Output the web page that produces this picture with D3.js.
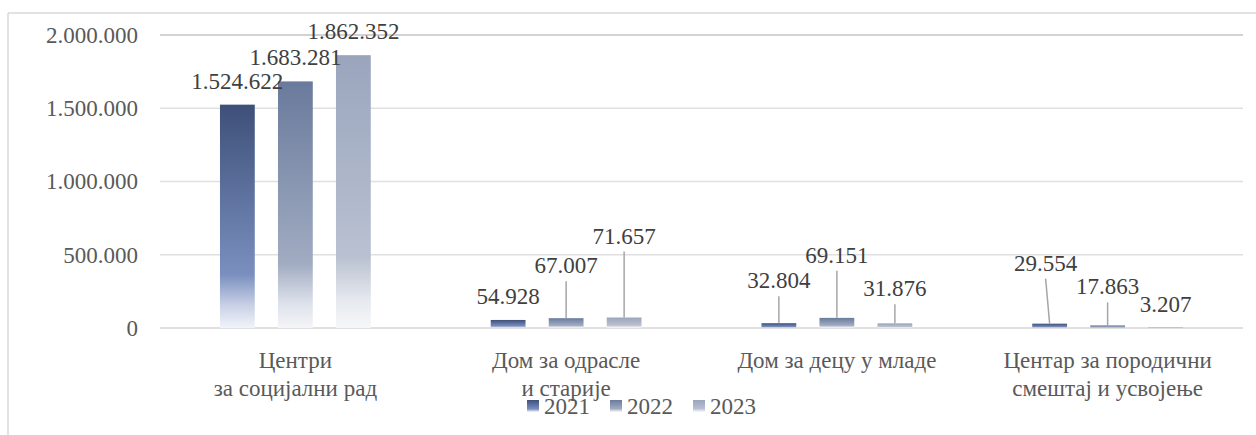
<!DOCTYPE html>
<html>
<head>
<meta charset="utf-8">
<script src="https://cdn.jsdelivr.net/npm/d3@7"></script>
<style>
  body { margin: 0; background: #fff; }
  svg text { font-family: "Liberation Serif", Tinos, "Times New Roman", Times, "Noto Serif", "DejaVu Serif", FreeSerif, serif; }
</style>
</head>
<body>
<div id="chart"></div>
<script>
// data
const categories = [
  ["Центри", "за социјални рад"],
  ["Дом за одрасле", "и старије"],
  ["Дом за децу у младе"],
  ["Центар за породични", "смештај и усвојење"]
];
const years = ["2021", "2022", "2023"];
const values2021 = [1524622, 54928, 32804, 29554];
const values2022 = [1683281, 67007, 69151, 17863];
const values2023 = [1862352, 71657, 31876, 3207];
const yTicks = [0, 500000, 1000000, 1500000, 2000000];

// layout: manual label placement (extra lift in px above the default spot, x shift)
const labelLift = [
  [0, 0, 0],
  [0, 29, 58],
  [19, 39, 11],
  [37, 15, 0]
];
const labelShift = [
  [0, 0, 0],
  [0, 0, 0],
  [0, 0, 0],
  [-4, 0, 0]
];

function draw() {
  const dimensions = {
    width: 1256,
    height: 435,
    left: 160,
    right: 1243,
    top: 35,
    bottom: 328
  };

  const series = [values2021, values2022, values2023];
  const rows = categories.map((c, i) => ({
    i,
    label: c,
    values: years.map((yr, j) => ({ year: yr, j, i, value: series[j][i] }))
  }));

  const fmt = v => d3.format(",")(v).replace(/,/g, ".");

  const svg = d3.select("#chart")
    .append("svg")
    .attr("width", dimensions.width)
    .attr("height", dimensions.height);

  const gradStops = [
    [["0", "#3e5079"], ["0.76", "#7a8fbf"], ["0.9", "#c9d1e6"], ["1", "#f2f4fa"]],
    [["0", "#6a7a9c"], ["0.74", "#a1acc2"], ["0.9", "#dde1ea"], ["1", "#f4f5f8"]],
    [["0", "#9aa5bd"], ["0.74", "#b9c1d1"], ["0.9", "#e6e9ef"], ["1", "#f6f7f9"]]
  ];
  const defs = svg.append("defs");
  gradStops.forEach((stops, j) => {
    const g = defs.append("linearGradient")
      .attr("id", "grad" + j)
      .attr("x1", 0).attr("y1", 0).attr("x2", 0).attr("y2", 1);
    stops.forEach(s => g.append("stop").attr("offset", s[0]).attr("stop-color", s[1]));
  });

  // frame
  svg.append("line")
    .attr("x1", 8).attr("x2", dimensions.width).attr("y1", 13).attr("y2", 13)
    .attr("stroke", "#d9d9d9").attr("stroke-width", 1.5);
  svg.append("line")
    .attr("x1", 8).attr("x2", 8).attr("y1", 13).attr("y2", dimensions.height)
    .attr("stroke", "#d9d9d9").attr("stroke-width", 1.5);

  const y = d3.scaleLinear()
    .domain([0, 2000000])
    .range([dimensions.bottom, dimensions.top]);

  const x0 = d3.scaleBand()
    .domain(d3.range(categories.length))
    .range([dimensions.left, dimensions.right]);

  const x1 = d3.scaleBand()
    .domain(years)
    .range([0, x0.bandwidth()])
    .paddingInner(0.4)
    .paddingOuter(1.034);

  // grid
  svg.append("g")
    .selectAll("line")
    .data(yTicks)
    .join("line")
    .attr("x1", dimensions.left)
    .attr("x2", dimensions.right)
    .attr("y1", d => y(d))
    .attr("y2", d => y(d))
    .attr("stroke", d => d === 2000000 ? "#c4c4c4" : "#e0e0e0")
    .attr("stroke-width", d => d === 0 ? 2 : 1.5);

  const yAxis = svg.append("g")
    .attr("transform", `translate(${dimensions.left - 22},0)`)
    .call(d3.axisLeft(y).tickValues(yTicks).tickSize(0).tickPadding(0).tickFormat(fmt))
    .attr("font-family", null)
    .attr("font-size", 23);
  yAxis.select(".domain").remove();
  yAxis.selectAll("text")
    .attr("fill", "#595959");

  // bars
  const groups = svg.append("g")
    .selectAll("g")
    .data(rows)
    .join("g")
    .attr("transform", d => `translate(${x0(d.i)},0)`);

  groups.selectAll("rect")
    .data(d => d.values)
    .join("rect")
    .attr("x", d => x1(d.year))
    .attr("width", x1.bandwidth())
    .attr("y", d => y(d.value))
    .attr("height", d => y(0) - y(d.value))
    .attr("fill", d => `url(#grad${d.j})`);

  // leader lines + labels
  const cx = d => x1(d.year) + x1.bandwidth() / 2;
  const labelY = d => y(d.value) - 24 - labelLift[d.i][d.j];
  const labelX = d => cx(d) + labelShift[d.i][d.j];

  groups.selectAll("line.leader")
    .data(d => d.values.filter(v => labelLift[v.i][v.j] > 8))
    .join("line")
    .attr("class", "leader")
    .attr("x1", d => labelX(d))
    .attr("y1", d => labelY(d) + 16)
    .attr("x2", d => cx(d))
    .attr("y2", d => y(d.value))
    .attr("stroke", "#a6a6a6")
    .attr("stroke-width", 1.5);

  groups.selectAll("text.val")
    .data(d => d.values)
    .join("text")
    .attr("class", "val")
    .attr("x", d => labelX(d))
    .attr("y", d => labelY(d))
    .attr("dy", "0.35em")
    .attr("text-anchor", "middle")
    .attr("font-size", 23)
    .attr("fill", "#404040")
    .text(d => fmt(d.value));

  // category labels
  const cat = svg.append("g")
    .selectAll("text")
    .data(rows)
    .join("text")
    .attr("x", d => x0(d.i) + x0.bandwidth() / 2)
    .attr("y", 360)
    .attr("text-anchor", "middle")
    .attr("font-size", 23)
    .attr("fill", "#595959");
  cat.selectAll("tspan")
    .data(d => d.label.map(t => ({ t, x: x0(d.i) + x0.bandwidth() / 2 })))
    .join("tspan")
    .attr("x", d => d.x)
    .attr("dy", (d, k) => k === 0 ? "0.35em" : "28")
    .text(d => d.t);

  // legend
  const legend = svg.append("g")
    .attr("transform", "translate(527,406)");
  const item = legend.selectAll("g")
    .data(years)
    .join("g")
    .attr("transform", (d, j) => `translate(${j * 83},0)`);
  item.append("rect")
    .attr("y", -6)
    .attr("width", 12)
    .attr("height", 12)
    .attr("fill", (d, j) => `url(#grad${j})`);
  item.append("text")
    .attr("x", 17)
    .attr("dy", "0.35em")
    .attr("font-size", 23)
    .attr("fill", "#595959")
    .text(d => d);
}
draw();
</script>
</body>
</html>
